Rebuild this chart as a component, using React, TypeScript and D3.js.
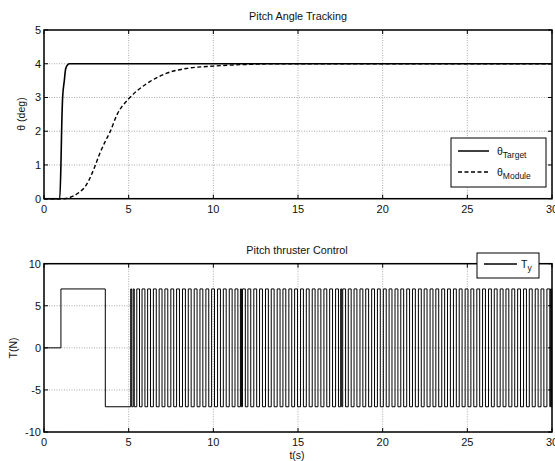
import React from "react";
import * as d3 from "d3";

// ---- data ----
const targetT = [0, 0.93, 1.0, 1.04, 1.1, 1.2, 1.28, 1.4, 1.5, 30];
const targetV = [0, 0, 1.0, 2.0, 3.0, 3.5, 3.85, 3.97, 4.0, 4.0];

const moduleT = [0, 1.2, 1.5, 2.0, 2.5, 3.0, 3.3, 3.6, 3.9, 4.3, 5.0, 5.5, 6.25, 7.25, 8.4, 10, 12, 14, 30];
const moduleV = [0, 0, 0.03, 0.16, 0.41, 0.95, 1.35, 1.68, 1.98, 2.48, 2.96, 3.2, 3.47, 3.72, 3.86, 3.93, 3.98, 4.0, 4.0];

// thruster: initial steps then pulse train (rise -> +7, fall -> -7)
const tyStepT = [0, 1.0, 3.62];
const tyStepV = [0, 7, -7];
const tyRise = [5.12, 5.27, 5.48, 5.79, 6.12, 6.46, 6.80, 7.14, 7.49, 7.83, 8.18, 8.52, 8.87, 9.21, 9.56, 9.90, 10.25, 10.59, 10.94, 11.28, 11.60, 11.72, 12.04, 12.39, 12.73, 13.08, 13.42, 13.77, 14.11, 14.46, 14.80, 15.15, 15.49, 15.84, 16.18, 16.53, 16.87, 17.22, 17.52, 17.64, 17.97, 18.31, 18.66, 19.00, 19.35, 19.69, 20.04, 20.38, 20.73, 21.07, 21.42, 21.76, 22.11, 22.45, 22.80, 23.14, 23.49, 23.83, 24.18, 24.52, 24.87, 25.21, 25.56, 25.90, 26.25, 26.59, 26.94, 27.28, 27.63, 27.97, 28.32, 28.66, 29.01, 29.35, 29.70, 29.92];
const tyFall = [5.18, 5.33, 5.64, 5.96, 6.29, 6.63, 6.97, 7.31, 7.66, 8.00, 8.35, 8.69, 9.04, 9.38, 9.73, 10.07, 10.42, 10.76, 11.11, 11.45, 11.66, 11.89, 12.21, 12.56, 12.90, 13.25, 13.59, 13.94, 14.28, 14.63, 14.97, 15.32, 15.66, 16.01, 16.35, 16.70, 17.04, 17.39, 17.58, 17.81, 18.14, 18.48, 18.83, 19.17, 19.52, 19.86, 20.21, 20.55, 20.90, 21.24, 21.59, 21.93, 22.28, 22.62, 22.97, 23.31, 23.66, 24.00, 24.35, 24.69, 25.04, 25.38, 25.73, 26.07, 26.42, 26.76, 27.11, 27.45, 27.80, 28.14, 28.49, 28.83, 29.18, 29.52, 29.87, 29.98];
const tyLow = -7;
const tyHigh = 7;

const xTicks = [0, 5, 10, 15, 20, 25, 30];
const yTicksTop = [0, 1, 2, 3, 4, 5];
const yTicksBot = [-10, -5, 0, 5, 10];

const FONT = "Liberation Sans, Arial, sans-serif";

const X0 = 44, X1 = 552;

function Axes({ x, y, yTicks, top, bottom }: any) {
  return (
    <g>
      {xTicks.map((t) => (
        <line key={"gx" + t} x1={x(t)} x2={x(t)} y1={top} y2={bottom} stroke="#aaa" strokeWidth={1} strokeDasharray="1,1.5" />
      ))}
      {yTicks.map((t: number) => (
        <line key={"gy" + t} x1={X0} x2={X1} y1={y(t)} y2={y(t)} stroke="#aaa" strokeWidth={1} strokeDasharray="1,1.5" />
      ))}
      {xTicks.map((t) => (
        <g key={"tx" + t}>
          <line x1={x(t)} x2={x(t)} y1={bottom} y2={bottom - 4} stroke="#000" />
          <line x1={x(t)} x2={x(t)} y1={top} y2={top + 4} stroke="#000" />
          <text x={x(t)} y={bottom + 14} fontSize={11} fontFamily={FONT} textAnchor="middle" fill="#111">{t}</text>
        </g>
      ))}
      {yTicks.map((t: number) => (
        <g key={"ty" + t}>
          <line x1={X0} x2={X0 + 4} y1={y(t)} y2={y(t)} stroke="#000" />
          <line x1={X1} x2={X1 - 4} y1={y(t)} y2={y(t)} stroke="#000" />
          <text x={X0 - 3} y={y(t) + 4} fontSize={11} fontFamily={FONT} textAnchor="end" fill="#111">{t}</text>
        </g>
      ))}
      <rect x={X0} y={top} width={X1 - X0} height={bottom - top} fill="none" stroke="#000" strokeWidth={1.5} />
    </g>
  );
}

export default function App() {
  const x = d3.scaleLinear().domain([0, 30]).range([X0, X1]);
  const yTop = d3.scaleLinear().domain([0, 5]).range([198.7, 30]);
  const yBot = d3.scaleLinear().domain([-10, 10]).range([432, 263.7]);

  const lineTop = d3.line<[number, number]>().x((d) => x(d[0])).y((d) => yTop(d[1])).curve(d3.curveMonotoneX);
  const targetPath = lineTop(targetT.map((t, i) => [t, targetV[i]]))!;
  const modulePath = lineTop(moduleT.map((t, i) => [t, moduleV[i]]))!;

  const tyPts: [number, number][] = tyStepT.map((t, i) => [t, tyStepV[i]]);
  tyRise.forEach((r, i) => {
    tyPts.push([r, tyHigh]);
    tyPts.push([tyFall[i], tyLow]);
  });
  tyPts.push([30, tyLow]);
  const tyPath = d3.line<[number, number]>().x((d) => x(d[0])).y((d) => yBot(d[1])).curve(d3.curveStepAfter)(tyPts)!;

  return (
    <svg width={555} height={461} style={{ position: "absolute", left: 0, top: 0, background: "#fff" }}>
      <rect x={0} y={0} width={555} height={461} fill="#fff" />
      {/* top panel */}
      <Axes x={x} y={yTop} yTicks={yTicksTop} top={30} bottom={198.7} />
      <path d={targetPath} fill="none" stroke="#000" strokeWidth={1.6} />
      <path d={modulePath} fill="none" stroke="#000" strokeWidth={1.4} strokeDasharray="4,2.5" />
      <text x={298} y={20} fontSize={10.8} fontFamily={FONT} textAnchor="middle" fill="#111">Pitch Angle Tracking</text>
      <text transform="translate(25,114) rotate(-90)" fontSize={10.5} fontFamily={FONT} textAnchor="middle" fill="#111">θ (deg)</text>
      <g>
        <rect x={451} y={138} width={95} height={49} fill="#fff" stroke="#000" strokeWidth={1} />
        <line x1={458} x2={489} y1={151} y2={151} stroke="#000" strokeWidth={1.5} />
        <text x={497} y={155} fontSize={10.5} fontFamily={FONT} fill="#111">θ<tspan fontSize={8.5} dy={3}>Target</tspan></text>
        <line x1={458} x2={489} y1={172} y2={172} stroke="#000" strokeWidth={1.4} strokeDasharray="4,2.5" />
        <text x={497} y={176} fontSize={10.5} fontFamily={FONT} fill="#111">θ<tspan fontSize={8.5} dy={3}>Module</tspan></text>
      </g>

      {/* bottom panel */}
      <Axes x={x} y={yBot} yTicks={yTicksBot} top={263.7} bottom={432} />
      <path d={tyPath} fill="none" stroke="#000" strokeWidth={1} />
      <text x={297} y={254} fontSize={10.8} fontFamily={FONT} textAnchor="middle" fill="#111">Pitch thruster Control</text>
      <text transform="translate(17,348) rotate(-90)" fontSize={10.5} fontFamily={FONT} textAnchor="middle" fill="#111">T(N)</text>
      <text x={297} y={459} fontSize={10.5} fontFamily={FONT} textAnchor="middle" fill="#111">t(s)</text>
      <g>
        <rect x={477} y={253} width={62} height={25} fill="#fff" stroke="#000" strokeWidth={1} />
        <line x1={484} x2={517} y1={264} y2={264} stroke="#000" strokeWidth={1.5} />
        <text x={521} y={268} fontSize={10.5} fontFamily={FONT} fill="#111">T<tspan fontSize={8.5} dy={3}>y</tspan></text>
      </g>
    </svg>
  );
}
